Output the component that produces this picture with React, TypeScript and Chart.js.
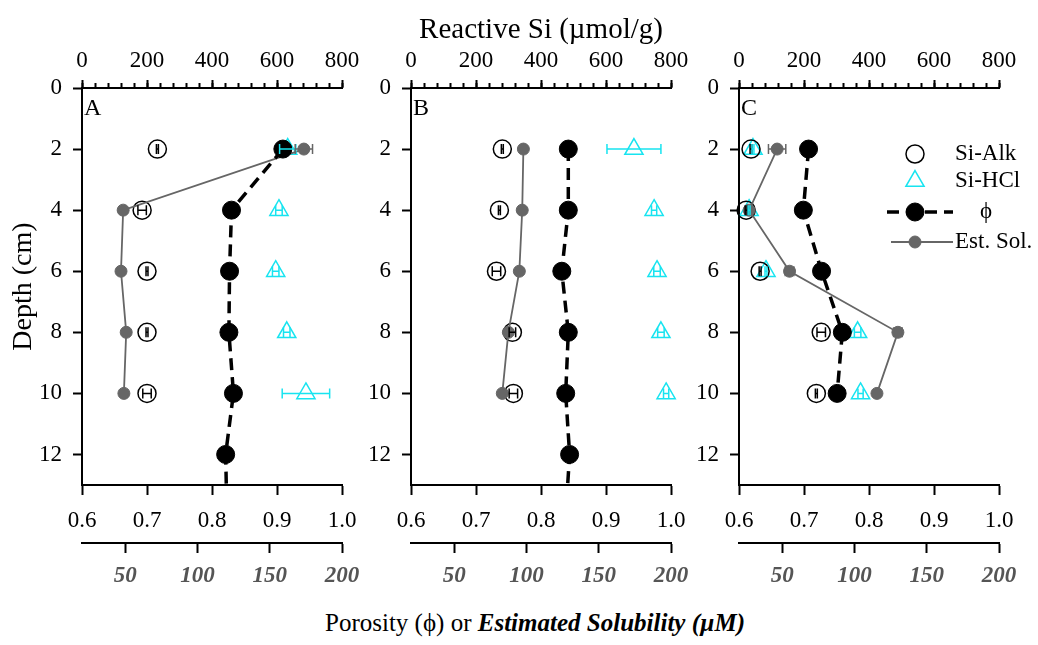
import React, { useEffect, useRef } from 'react';
import { Chart, registerables } from 'chart.js';

Chart.register(...registerables);

const FONT = "'Liberation Serif', 'Times New Roman', serif";

// ---------- data ----------
const panelLetters = ['A', 'B', 'C'];
const siDepths = [2, 4, 6, 8, 10];
const depthTicks = [0, 2, 4, 6, 8, 10, 12];
const siTicks = [0, 200, 400, 600, 800];
const siMinorTicks = [0, 40, 80, 120, 160, 200, 240, 280, 320, 360, 400, 440, 480, 520, 560, 600, 640, 680, 720, 760, 800];
const porosityTicks = [0.6, 0.7, 0.8, 0.9, 1.0];
const solubilityTicks = [50, 100, 150, 200];

// Panel A
const siAlkA = [232, 185, 200, 200, 200];
const siAlkErrA = [3, 13, 3, 3, 13];
const siHclA = [633, 606, 596, 630, 689];
const siHclErrA = [25, 10, 10, 10, 73];
const phiDepthsA = [2, 4, 6, 8, 10, 12, 14];
const phiA = [0.909, 0.83, 0.827, 0.826, 0.833, 0.821, 0.823];
const estSolA = [173.6, 48.5, 47, 50.6, 49];
const estSolErrA = [6, 0, 0, 0, 0];

// Panel B
const siAlkB = [281, 272, 263, 312, 315];
const siAlkErrB = [3, 3, 13, 10, 13];
const siHclB = [686, 748, 757, 769, 785];
const siHclErrB = [83, 8, 10, 10, 8];
const phiDepthsB = [2, 4, 6, 8, 10, 12, 14];
const phiB = [0.842, 0.842, 0.832, 0.842, 0.838, 0.844, 0.838];
const estSolB = [97.8, 97, 95, 87.4, 83.2];
const estSolErrB = [0, 0, 0, 0, 0];

// Panel C
const siAlkC = [37, 22, 65, 253, 238];
const siAlkErrC = [3, 3, 3, 13, 3];
const siHclC = [43, 31, 83, 365, 374];
const siHclErrC = [3, 3, 3, 10, 8];
const phiDepthsC = [2, 4, 6, 8, 10];
const phiC = [0.707, 0.699, 0.727, 0.759, 0.751];
const estSolC = [46.4, 27, 55, 130, 115.5];
const estSolErrC = [6, 0, 3, 3, 0];

const seriesLabels = ['Si-Alk', 'Si-HCl', '\u03D5', 'Est. Sol.'];

const panels = [
  { siAlk: siAlkA, siAlkErr: siAlkErrA, siHcl: siHclA, siHclErr: siHclErrA, phiDepths: phiDepthsA, phi: phiA, est: estSolA, estErr: estSolErrA },
  { siAlk: siAlkB, siAlkErr: siAlkErrB, siHcl: siHclB, siHclErr: siHclErrB, phiDepths: phiDepthsB, phi: phiB, est: estSolB, estErr: estSolErrB },
  { siAlk: siAlkC, siAlkErr: siAlkErrC, siHcl: siHclC, siHclErr: siHclErrC, phiDepths: phiDepthsC, phi: phiC, est: estSolC, estErr: estSolErrC },
];

// ---------- styles ----------
const CYAN = '#17e4f0';
const GRAY = '#666666';
const CANVAS_W = 400;
const CANVAS_H = 600;
const AREA_W = 260;
const canvasLefts = [0, 329, 657];

// ---------- plugins ----------
const errorBarPlugin = {
  id: 'errorBars',
  afterDatasetsDraw(chart: any) {
    const { ctx } = chart;
    chart.data.datasets.forEach((ds: any, i: number) => {
      const errs = ds.errX;
      if (!errs) return;
      const meta = chart.getDatasetMeta(i);
      const xs = chart.scales[ds.xAxisID];
      ctx.save();
      ctx.strokeStyle = ds.borderColor;
      ctx.lineWidth = 1.5;
      meta.data.forEach((el: any, j: number) => {
        const e = errs[j];
        if (!e) return;
        const v = ds.data[j].x;
        const x1 = xs.getPixelForValue(v - e);
        const x2 = xs.getPixelForValue(v + e);
        const y = el.y;
        ctx.beginPath();
        ctx.moveTo(x1, y);
        ctx.lineTo(x2, y);
        ctx.moveTo(x1, y - 5);
        ctx.lineTo(x1, y + 5);
        ctx.moveTo(x2, y - 5);
        ctx.lineTo(x2, y + 5);
        ctx.stroke();
      });
      ctx.restore();
    });
  },
};

function drawMarker(ctx: any, style: string, x: number, y: number, r: number, fill: string, stroke: string, lw: number) {
  ctx.beginPath();
  if (style === 'triangle') {
    ctx.moveTo(x, y - r);
    ctx.lineTo(x + r * Math.sin((2 * Math.PI) / 3), y - r * Math.cos((2 * Math.PI) / 3));
    ctx.lineTo(x + r * Math.sin((4 * Math.PI) / 3), y - r * Math.cos((4 * Math.PI) / 3));
    ctx.closePath();
  } else {
    ctx.arc(x, y, r, 0, Math.PI * 2);
  }
  if (fill && fill !== 'transparent') {
    ctx.fillStyle = fill;
    ctx.fill();
  }
  ctx.lineWidth = lw;
  ctx.strokeStyle = stroke;
  ctx.stroke();
}

const legendPlugin = {
  id: 'panelLegend',
  afterDraw(chart: any, _args: any, opts: any) {
    if (!opts || !opts.show) return;
    const { ctx, chartArea } = chart;
    ctx.save();
    opts.rows.forEach((row: any) => {
      const ds = chart.data.datasets.find((d: any) => d.key === row.key);
      if (!ds) return;
      const y = chartArea.top + row.dy;
      const mx = chartArea.left + opts.markerX;
      if (row.lineFrom !== undefined) {
        ctx.beginPath();
        ctx.setLineDash(ds.borderDash || []);
        ctx.lineWidth = ds.borderWidth;
        ctx.strokeStyle = ds.borderColor;
        ctx.moveTo(chartArea.left + row.lineFrom, y);
        ctx.lineTo(chartArea.left + row.lineTo, y);
        ctx.stroke();
        ctx.setLineDash([]);
      }
      const r = Array.isArray(ds.pointRadius) ? ds.pointRadius[0] : ds.pointRadius;
      drawMarker(ctx, ds.pointStyle, mx, y, r, ds.backgroundColor, ds.borderColor, ds.pointBorderWidth || 1.5);
      ctx.fillStyle = '#000';
      ctx.font = `23px ${FONT}`;
      ctx.textBaseline = 'middle';
      ctx.textAlign = 'left';
      ctx.fillText(ds.label, chartArea.left + (row.textX ?? opts.textX), y);
    });
    ctx.restore();
  },
};

const letterPlugin = {
  id: 'panelLetter',
  afterDraw(chart: any, _args: any, opts: any) {
    if (!opts || !opts.text) return;
    const { ctx, chartArea } = chart;
    ctx.save();
    ctx.fillStyle = '#000';
    ctx.font = `24px ${FONT}`;
    ctx.textBaseline = 'alphabetic';
    ctx.textAlign = 'left';
    ctx.fillText(opts.text, chartArea.left + 2, chartArea.top + 27);
    ctx.restore();
  },
};

const setTicks = (list: number[]) => (scale: any) => {
  scale.ticks = list.map((v) => ({ value: v }));
};

const tickFont = { family: FONT, size: 23 };
const axisGrid = (len: number) => ({
  display: true,
  drawOnChartArea: false,
  drawTicks: true,
  tickLength: len,
  tickWidth: 2,
  tickColor: '#000',
});
const axisBorder = { display: true, width: 2, color: '#000' };

function buildConfig(idx: number): any {
  const p = panels[idx];
  return {
    type: 'scatter',
    data: {
      datasets: [
        {
          key: 'siAlk',
          label: seriesLabels[0],
          data: siDepths.map((d, i) => ({ x: p.siAlk[i], y: d })),
          xAxisID: 'xSi',
          yAxisID: 'y',
          showLine: false,
          pointStyle: 'circle',
          pointRadius: 9,
          pointBorderWidth: 1.5,
          borderColor: '#000',
          backgroundColor: 'transparent',
          errX: p.siAlkErr,
          order: 2,
          clip: 14,
        },
        {
          key: 'siHcl',
          label: seriesLabels[1],
          data: siDepths.map((d, i) => ({ x: p.siHcl[i], y: d })),
          xAxisID: 'xSi',
          yAxisID: 'y',
          showLine: false,
          pointStyle: 'triangle',
          pointRadius: 10.5,
          pointBorderWidth: 1.5,
          borderColor: CYAN,
          backgroundColor: 'transparent',
          errX: p.siHclErr,
          order: 3,
          clip: 14,
        },
        {
          key: 'phi',
          label: seriesLabels[2],
          data: p.phiDepths.map((d, i) => ({ x: p.phi[i], y: d })),
          xAxisID: 'xPor',
          yAxisID: 'y',
          showLine: true,
          borderColor: '#000',
          backgroundColor: '#000',
          borderWidth: 3.5,
          borderDash: [12, 7],
          pointStyle: 'circle',
          pointRadius: p.phiDepths.map((d) => (d > 13 ? 0 : 9)),
          pointBorderWidth: 1,
          order: 0,
        },
        {
          key: 'est',
          label: seriesLabels[3],
          data: siDepths.map((d, i) => ({ x: p.est[i], y: d })),
          xAxisID: 'xSol',
          yAxisID: 'y',
          showLine: true,
          borderColor: GRAY,
          backgroundColor: GRAY,
          borderWidth: 1.8,
          pointStyle: 'circle',
          pointRadius: 6,
          pointBorderWidth: 1,
          errX: p.estErr,
          order: 1,
          clip: 14,
        },
      ],
    },
    options: {
      responsive: false,
      animation: false,
      events: [],
      layout: { padding: { left: 0, right: CANVAS_W - 82 - AREA_W, top: 0, bottom: 0 } },
      plugins: {
        legend: { display: false },
        tooltip: { enabled: false },
        panelLetter: { text: panelLetters[idx] },
        panelLegend:
          idx === 2
            ? {
                show: true,
                markerX: 176,
                textX: 216,
                rows: [
                  { key: 'siAlk', dy: 66 },
                  { key: 'siHcl', dy: 93 },
                  { key: 'phi', dy: 124, lineFrom: 148, lineTo: 214, textX: 241 },
                  { key: 'est', dy: 154, lineFrom: 152, lineTo: 214 },
                ],
              }
            : { show: false },
      },
      scales: {
        y: {
          type: 'linear',
          position: 'left',
          reverse: true,
          min: 0,
          max: 13,
          afterBuildTicks: setTicks(depthTicks),
          afterFit: (s: any) => {
            s.width = 82;
          },
          ticks: { font: tickFont, color: '#000', padding: 11, autoSkip: false },
          grid: axisGrid(9),
          border: axisBorder,
          title: {
            display: idx === 0,
            text: 'Depth (cm)',
            font: { family: FONT, size: 28 },
            color: '#000',
            padding: { top: 7, bottom: 0 },
          },
        },
        xSi: {
          type: 'linear',
          position: 'top',
          weight: 1,
          min: 0,
          max: 800,
          afterBuildTicks: setTicks(siTicks),
          afterFit: (s: any) => {
            s.height = 88;
          },
          ticks: { font: tickFont, color: '#000', padding: 5, autoSkip: false, maxRotation: 0 },
          grid: axisGrid(8),
          border: axisBorder,
          title: {
            display: idx === 1,
            text: 'Reactive Si (\u00B5mol/g)',
            font: { family: FONT, size: 29 },
            color: '#000',
            padding: { top: 13, bottom: 0 },
          },
        },
        xSiMinor: {
          type: 'linear',
          position: 'top',
          weight: 0,
          min: 0,
          max: 800,
          afterBuildTicks: setTicks(siMinorTicks),
          afterFit: (s: any) => {
            s.height = 0;
          },
          ticks: { display: false },
          grid: axisGrid(5),
          border: { display: false },
        },
        xPor: {
          type: 'linear',
          position: 'bottom',
          weight: 0,
          min: 0.6,
          max: 1.0,
          afterBuildTicks: setTicks(porosityTicks),
          afterFit: (s: any) => {
            s.height = 58;
          },
          ticks: {
            font: tickFont,
            color: '#000',
            padding: 12,
            autoSkip: false,
            maxRotation: 0,
            callback: (v: any) => Number(v).toFixed(1),
          },
          grid: axisGrid(10),
          border: axisBorder,
        },
        xSol: {
          type: 'linear',
          position: 'bottom',
          weight: 1,
          min: 20,
          max: 200,
          afterBuildTicks: setTicks(solubilityTicks),
          afterFit: (s: any) => {
            s.height = CANVAS_H - 543;
          },
          ticks: {
            font: { family: FONT, size: 23, style: 'italic', weight: 'bold' },
            color: '#555555',
            padding: 9,
            autoSkip: false,
            maxRotation: 0,
          },
          grid: axisGrid(10),
          border: axisBorder,
        },
      },
    },
    plugins: [errorBarPlugin, legendPlugin, letterPlugin],
  };
}

function Panel({ idx }: { idx: number }) {
  const ref = useRef<HTMLCanvasElement | null>(null);
  useEffect(() => {
    if (!ref.current) return;
    const chart = new Chart(ref.current, buildConfig(idx));
    return () => chart.destroy();
  }, [idx]);
  return (
    <canvas
      ref={ref}
      width={CANVAS_W}
      height={CANVAS_H}
      style={{ position: 'absolute', left: canvasLefts[idx], top: 0, width: CANVAS_W, height: CANVAS_H }}
    />
  );
}

export default function App() {
  return (
    <div
      style={{
        position: 'absolute',
        left: 0,
        top: 0,
        width: 1038,
        height: 645,
        background: '#fff',
        overflow: 'hidden',
        fontFamily: FONT,
      }}
    >
      <Panel idx={0} />
      <Panel idx={1} />
      <Panel idx={2} />
      <div
        style={{
          position: 'absolute',
          left: 325,
          top: 607,
          fontSize: 25,
          lineHeight: '32px',
          whiteSpace: 'nowrap',
          color: '#000',
        }}
      >
        Porosity ({'\u03D5'}) or{' '}
        <b>
          <i>Estimated Solubility ({'\u00B5'}M)</i>
        </b>
      </div>
    </div>
  );
}
